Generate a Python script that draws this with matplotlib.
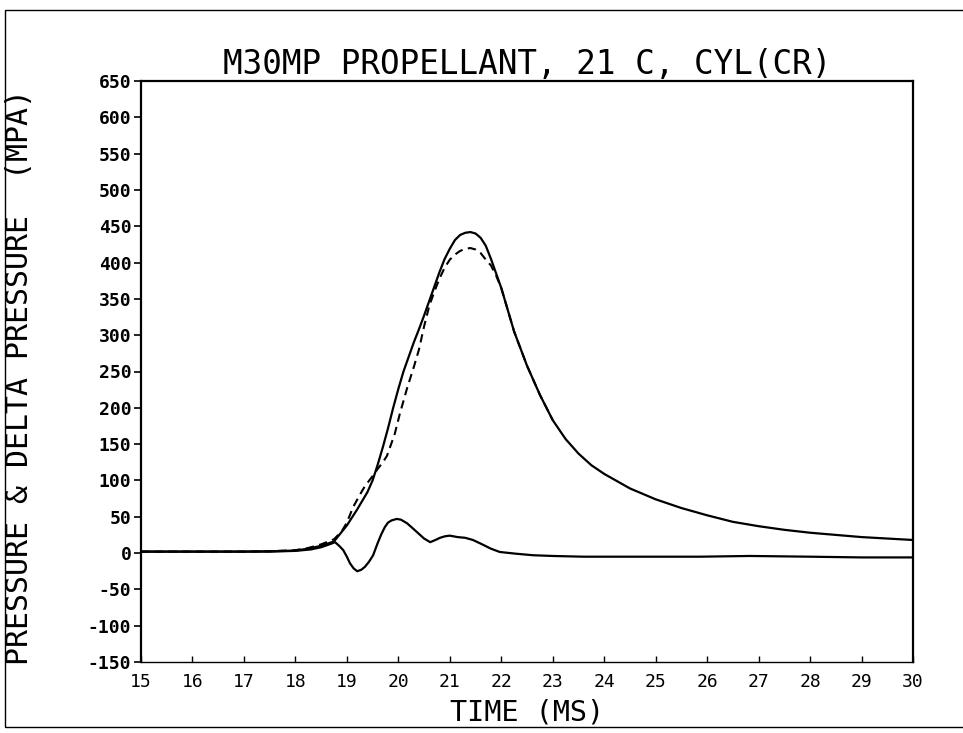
import matplotlib
matplotlib.use("Agg")
import matplotlib.pyplot as plt
from matplotlib.patches import Rectangle

# Measured chamber pressure (solid), MPa vs time in ms
t_pressure = [15.0, 16.0, 17.0, 17.5, 17.8, 18.0, 18.25, 18.5, 18.75, 19.0,
              19.2, 19.4, 19.5, 19.6, 19.7, 19.8, 19.9, 20.0, 20.1, 20.2,
              20.3, 20.4, 20.5, 20.6, 20.7, 20.8, 20.9, 21.0, 21.1, 21.2,
              21.3, 21.4, 21.5, 21.6, 21.7, 21.8, 21.9, 22.0, 22.25, 22.5,
              22.75, 23.0, 23.25, 23.5, 23.75, 24.0, 24.5, 25.0, 25.5, 26.0,
              26.5, 27.0, 27.5, 28.0, 28.5, 29.0, 29.5, 30.0]
p_pressure = [2, 2, 2, 2.5, 3, 3.5, 6, 10, 16, 38,
              60, 84, 100, 122, 146, 172, 200, 226, 250, 270,
              290, 308, 327, 347, 367, 387, 405, 419, 431, 438,
              441, 442, 440, 434, 423, 405, 385, 365, 305, 258,
              218, 183, 157, 137, 121, 109, 89, 74, 62, 52,
              43, 37, 32, 28, 25, 22, 20, 18]

# Computed pressure (dashed), MPa vs time in ms
t_computed = [15.0, 16.0, 17.0, 17.5, 18.0, 18.25, 18.5, 18.75, 18.9, 19.0,
              19.12, 19.25, 19.35, 19.5, 19.6, 19.7, 19.78, 19.85, 19.93, 20.03,
              20.17, 20.3, 20.4, 20.5, 20.6, 20.7, 20.8, 20.9, 21.0, 21.1,
              21.2, 21.3, 21.4, 21.5, 21.6, 21.7, 21.8, 21.9, 22.0, 22.25,
              22.5, 22.75, 23.0]
p_computed = [2, 2, 2, 2.5, 4, 7, 12, 19, 30, 42,
              63, 80, 92, 106, 116, 125, 134, 148, 164, 192,
              227, 256, 280, 312, 340, 360, 378, 393, 404, 411,
              416, 419, 420, 418, 413, 404, 396, 382, 365, 305,
              258, 218, 183]

# Delta pressure (solid, lower trace), MPa vs time in ms
t_delta = [15.0, 16.0, 17.0, 17.5, 18.0, 18.3, 18.5, 18.7, 18.77, 18.85,
           18.93, 19.0, 19.06, 19.13, 19.2, 19.28, 19.35, 19.43, 19.51, 19.6,
           19.67, 19.74, 19.8, 19.87, 19.97, 20.05, 20.17, 20.25, 20.36, 20.5,
           20.62, 20.72, 20.81, 20.9, 21.0, 21.15, 21.3, 21.45, 21.6, 21.8,
           21.97, 22.3, 22.62, 23.0, 23.59, 24.5, 25.86, 26.83, 28.0, 29.0,
           30.0]
p_delta = [2, 2, 2, 2, 3, 5, 8, 13, 15, 10,
           4, -5, -14, -21, -25, -23, -19, -12, -3, 14,
           26, 36, 42, 45, 47, 46, 41, 36, 29, 20,
           15, 18, 21, 23, 24, 22, 21, 18, 13, 6,
           1.5, -1, -3, -4, -5, -5, -5, -4, -5, -6,
           -6]

title_text = "M30MP PROPELLANT, 21 C, CYL(CR)"
x_label = "TIME (MS)"
y_label = "PRESSURE & DELTA PRESSURE  (MPA)"
x_ticks = list(range(15, 31))
y_ticks = list(range(-150, 651, 50))

mono = ["DejaVu Sans Mono"]

fig = plt.figure(figsize=(9.63, 7.33), dpi=100)
fig.patch.set_facecolor("white")

# page border
fig.patches.append(Rectangle((5 / 963, 1 - 727 / 733), 1.2, (727 - 10) / 733,
                             transform=fig.transFigure, fill=False,
                             edgecolor="black", linewidth=1.0))

ax = fig.add_axes([141 / 963, 1 - 662 / 733, 772 / 963, 581 / 733])

ax.plot(t_pressure, p_pressure, color="black", linewidth=1.6)
ax.plot(t_computed, p_computed, color="black", linewidth=1.5,
        linestyle=(0, (4, 2.6)))
ax.plot(t_delta, p_delta, color="black", linewidth=1.6)

ax.set_xlim(15, 30)
ax.set_ylim(-150, 650)
ax.set_xticks(x_ticks)
ax.set_yticks(y_ticks)
ax.set_xticklabels([str(v) for v in x_ticks], family=mono, fontsize=13)
ax.set_yticklabels([str(v) for v in y_ticks], family=mono, fontsize=13,
                   fontweight="bold")
ax.tick_params(axis="x", direction="in", length=4, width=1, pad=8)
ax.tick_params(axis="y", direction="out", length=5, width=1.2, pad=2)

for side in ["left", "right", "top"]:
    ax.spines[side].set_linewidth(1.6)
ax.spines["bottom"].set_linewidth(1.0)

ax.set_title(title_text, family=mono, fontsize=23.5, pad=5)
ax.set_xlabel(x_label, family=mono, fontsize=20.5, labelpad=5)
fig.text(20 / 963, 1 - 377 / 733, y_label, family=mono, fontsize=21.5,
         rotation=90, ha="center", va="center")

fig.savefig("out.png", dpi=100, facecolor="white")
